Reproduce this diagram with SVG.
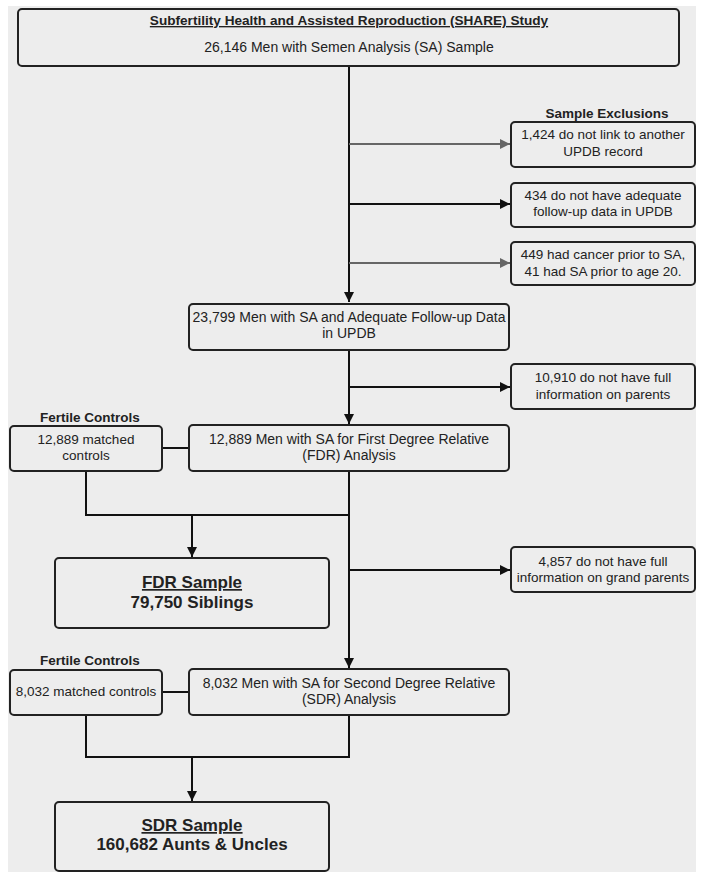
<svg xmlns="http://www.w3.org/2000/svg" width="704" height="881" viewBox="0 0 704 881">
<style>
.box{fill:#ededed;stroke:#222;stroke-width:2}
.t{font-family:"Liberation Sans",Arial,sans-serif;font-size:14px;fill:#222;text-anchor:middle}
.s{font-size:13.5px}
.b{font-weight:bold}
.ttl{font-size:13.6px}
.big{font-size:17px;font-weight:bold}
.u{text-decoration:underline}
.ln{fill:none;stroke:#111;stroke-width:2}
.gl{fill:none;stroke:#666;stroke-width:2}
</style>
<defs>
<marker id="ab" viewBox="0 0 10 10" refX="10" refY="5" markerWidth="11" markerHeight="10" markerUnits="userSpaceOnUse" orient="auto"><path d="M0,0 L10,5 L0,10 z" fill="#111"/></marker>
<marker id="ag" viewBox="0 0 10 10" refX="10" refY="5" markerWidth="11" markerHeight="10" markerUnits="userSpaceOnUse" orient="auto"><path d="M0,0 L10,5 L0,10 z" fill="#666"/></marker>
</defs>
<rect x="0" y="0" width="704" height="881" fill="#ffffff"/>
<rect x="8" y="6" width="688" height="866" fill="#ededed"/>

<g id="connectors">
<path class="ln" d="M349,66 V302" marker-end="url(#ab)"/>
<path class="gl" d="M349,144 H510" marker-end="url(#ag)"/>
<path class="ln" d="M349,204 H510" marker-end="url(#ab)"/>
<path class="gl" d="M349,263 H510" marker-end="url(#ag)"/>
<path class="ln" d="M349,350 V424" marker-end="url(#ab)"/>
<path class="ln" d="M349,387 H510" marker-end="url(#ab)"/>
<path class="ln" d="M162,448 H189"/>
<path class="ln" d="M86,471 V515 H349"/>
<path class="ln" d="M192,515 V557" marker-end="url(#ab)"/>
<path class="ln" d="M349,471 V668" marker-end="url(#ab)"/>
<path class="ln" d="M349,570 H510" marker-end="url(#ab)"/>
<path class="ln" d="M162,692 H189"/>
<path class="ln" d="M86,715 V757 H349 V715"/>
<path class="ln" d="M192,757 V801" marker-end="url(#ab)"/>
</g>

<g id="share">
<rect class="box" x="18" y="9" width="661" height="57" rx="4"/>
<text class="t b u ttl" x="349" y="25">Subfertility Health and Assisted Reproduction (SHARE) Study</text>
<text class="t" x="349" y="52">26,146 Men with Semen Analysis (SA) Sample</text>
</g>

<text id="excl-label" class="t b s" x="607" y="118">Sample Exclusions</text>

<g id="ex1">
<rect class="box" x="511" y="122" width="184" height="45" rx="4"/>
<text class="t s" x="603" y="139">1,424 do not link to another</text>
<text class="t s" x="603" y="156">UPDB record</text>
</g>
<g id="ex2">
<rect class="box" x="511" y="183" width="184" height="44" rx="4"/>
<text class="t s" x="603" y="200">434 do not have adequate</text>
<text class="t s" x="603" y="216">follow-up data in UPDB</text>
</g>
<g id="ex3">
<rect class="box" x="511" y="242" width="184" height="43" rx="4"/>
<text class="t s" x="603" y="259">449 had cancer prior to SA,</text>
<text class="t s" x="603" y="276">41 had SA prior to age 20.</text>
</g>

<g id="updb">
<rect class="box" x="189" y="304" width="320" height="46" rx="4"/>
<text class="t" x="349" y="322">23,799 Men with SA and Adequate Follow-up Data</text>
<text class="t" x="349" y="338">in UPDB</text>
</g>

<g id="ex4">
<rect class="box" x="511" y="364" width="184" height="45" rx="4"/>
<text class="t s" x="603" y="382">10,910 do not have full</text>
<text class="t s" x="603" y="399">information on parents</text>
</g>

<text id="fc1-label" class="t b s" x="90" y="422">Fertile Controls</text>
<g id="fc1">
<rect class="box" x="10" y="426" width="152" height="45" rx="4"/>
<text class="t s" x="86" y="444">12,889 matched</text>
<text class="t s" x="86" y="460">controls</text>
</g>
<g id="fdr-men">
<rect class="box" x="189" y="425" width="320" height="46" rx="4"/>
<text class="t" x="349" y="444">12,889 Men with SA for First Degree Relative</text>
<text class="t" x="349" y="460">(FDR) Analysis</text>
</g>

<g id="fdr-sample">
<rect class="box" x="55" y="558" width="274" height="70" rx="4"/>
<text class="t big u" x="192" y="588">FDR Sample</text>
<text class="t big" x="192" y="608">79,750 Siblings</text>
</g>

<g id="ex5">
<rect class="box" x="511" y="547" width="184" height="45" rx="4"/>
<text class="t s" x="603" y="566">4,857 do not have full</text>
<text class="t s" x="603" y="582">information on grand parents</text>
</g>

<text id="fc2-label" class="t b s" x="90" y="665">Fertile Controls</text>
<g id="fc2">
<rect class="box" x="10" y="670" width="152" height="45" rx="4"/>
<text class="t s" x="86" y="696">8,032 matched controls</text>
</g>
<g id="sdr-men">
<rect class="box" x="189" y="669" width="320" height="46" rx="4"/>
<text class="t" x="349" y="688">8,032 Men with SA for Second Degree Relative</text>
<text class="t" x="349" y="704">(SDR) Analysis</text>
</g>

<g id="sdr-sample">
<rect class="box" x="55" y="802" width="274" height="69" rx="4"/>
<text class="t big u" x="192" y="831">SDR Sample</text>
<text class="t big" x="192" y="850">160,682 Aunts &amp; Uncles</text>
</g>
</svg>
